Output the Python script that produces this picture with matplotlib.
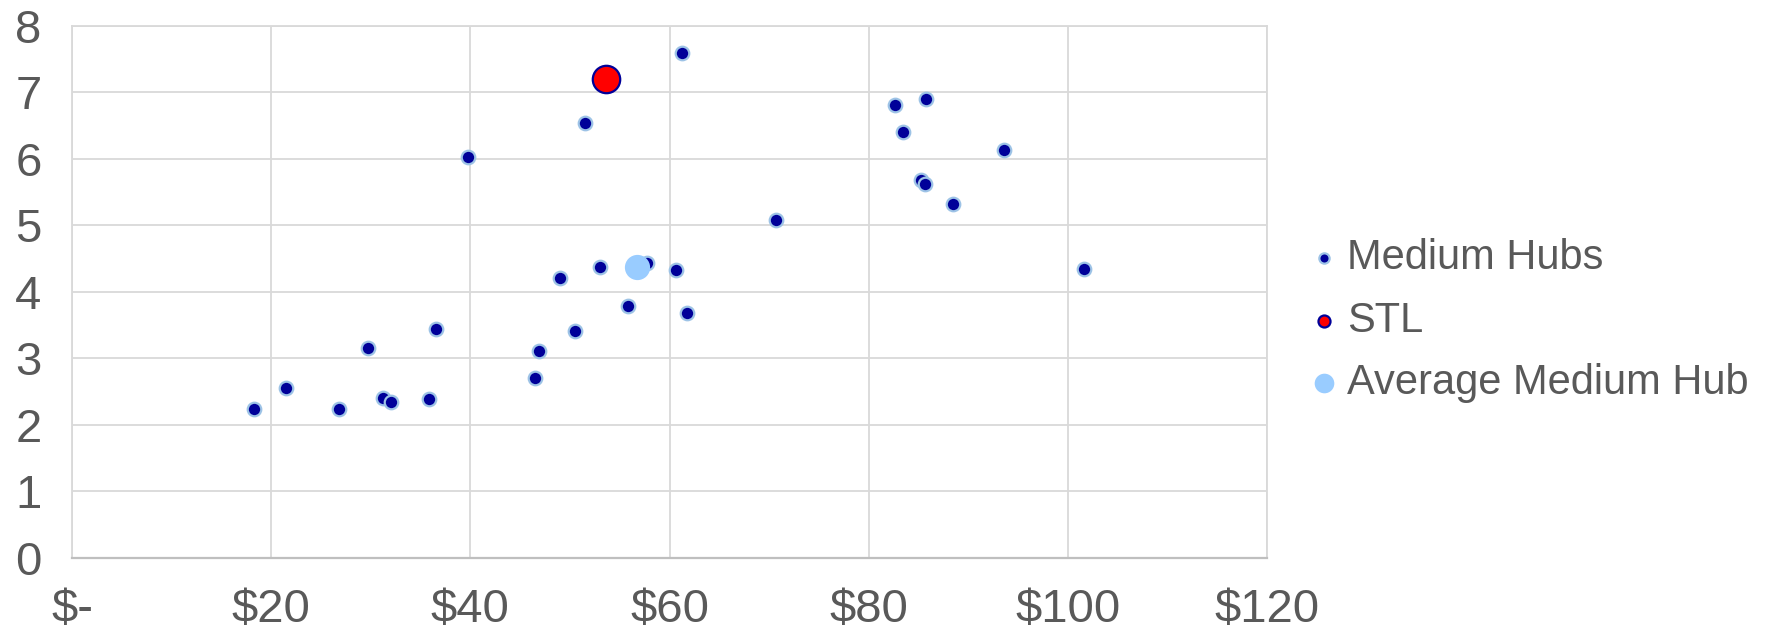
import matplotlib
matplotlib.use("Agg")
import matplotlib.pyplot as plt
from matplotlib.ticker import FixedLocator, FixedFormatter

plt.rcParams['font.family'] = ['Liberation Sans', 'DejaVu Sans']

# Cost per passenger ($) vs. metric for medium hub airports
hub_cost = [18.3, 21.5, 26.8, 29.7, 31.25, 32.0, 35.8, 36.5, 39.8, 46.5,
            46.9, 49.0, 50.5, 51.5, 53.0, 55.8, 57.7, 60.6, 61.25, 61.8,
            70.7, 82.6, 83.4, 85.8, 85.3, 85.7, 88.5, 93.6, 101.6]
hub_value = [2.24, 2.55, 2.24, 3.16, 2.41, 2.34, 2.39, 3.45, 6.03, 2.70,
             3.11, 4.21, 3.41, 6.54, 4.37, 3.79, 4.43, 4.33, 7.59, 3.69,
             5.08, 6.81, 6.40, 6.90, 5.69, 5.62, 5.33, 6.13, 4.35]
stl_cost = [53.6]
stl_value = [7.20]
avg_cost = [56.7]
avg_value = [4.38]

x_ticks = [0, 20, 40, 60, 80, 100, 120]
x_labels = ['$-', '$20', '$40', '$60', '$80', '$100', '$120']
y_ticks = [0, 1, 2, 3, 4, 5, 6, 7, 8]

fig = plt.figure(figsize=(17.71, 6.29), dpi=100)
ax = fig.add_axes([0.0407, 0.113, 0.6747, 0.8457])

ax.scatter(hub_cost, hub_value, s=95, color='#000099', edgecolors='#9DC3E6',
           linewidths=1.6, zorder=3, label='Medium Hubs')
ax.scatter(stl_cost, stl_value, s=390, color='#FF0000', edgecolors='#000099',
           linewidths=1.6, zorder=4, label='STL')
ax.scatter(avg_cost, avg_value, s=330, color='#99CCFF', edgecolors='#99CCFF',
           linewidths=0, zorder=4, label='Average Medium Hub')

ax.set_xlim(0, 120)
ax.set_ylim(0, 8)
ax.xaxis.set_major_locator(FixedLocator(x_ticks))
ax.xaxis.set_major_formatter(FixedFormatter(x_labels))
ax.yaxis.set_major_locator(FixedLocator(y_ticks))

ax.grid(True, color='#D9D9D9', linewidth=1.3, zorder=0)
ax.set_axisbelow(True)
for side in ['top', 'right', 'left']:
    ax.spines[side].set_color('#D9D9D9')
    ax.spines[side].set_linewidth(1.3)
ax.spines['bottom'].set_color('#BFBFBF')
ax.spines['bottom'].set_linewidth(1.6)

ax.tick_params(axis='both', length=0, labelsize=34, labelcolor='#595959')
ax.tick_params(axis='x', pad=22)
ax.tick_params(axis='y', pad=22)

leg = ax.legend(loc='center left', bbox_to_anchor=(1.034, 0.446), frameon=False,
                fontsize=30, labelcolor='#595959', handlelength=0.8,
                handletextpad=0.14, labelspacing=0.54, borderpad=0,
                borderaxespad=0)
sizes = [55, 75, 200]
for h, sz in zip(leg.legend_handles, sizes):
    h.set_sizes([sz])

fig.savefig('out.png', dpi=100, facecolor='white')
